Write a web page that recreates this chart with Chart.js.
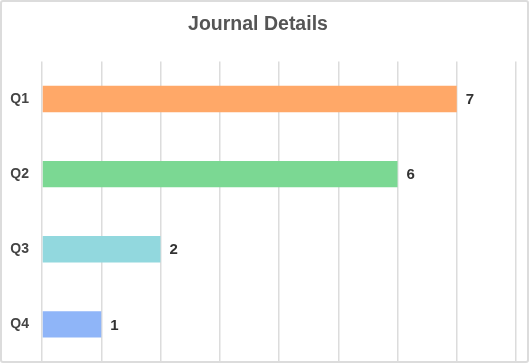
<!DOCTYPE html>
<html>
<head>
<meta charset="utf-8">
<script src="https://cdn.jsdelivr.net/npm/chart.js@4/dist/chart.umd.min.js"></script>
<style>
  html, body { margin: 0; padding: 0; background: #fff; }
  #wrap { position: relative; width: 529px; height: 363px; }
  #frame { position: absolute; left: 0; top: 0; width: 529px; height: 363px; box-sizing: border-box;
           border: 2px solid #dcdcdc; border-radius: 3px; pointer-events: none; }
</style>
</head>
<body>
<div id="wrap">
  <canvas id="chart" width="529" height="363"></canvas>
  <div id="frame"></div>
</div>
<script>
const categories = ['Q1', 'Q2', 'Q3', 'Q4'];
const values = [7, 6, 2, 1];
const barColors = ['#FFA868', '#7BD893', '#92D8DE', '#8FB5F8'];

// draws the value at the end of each bar
const valueLabels = {
  id: 'valueLabels',
  afterDatasetsDraw(chart) {
    const ctx = chart.ctx;
    const meta = chart.getDatasetMeta(0);
    ctx.save();
    ctx.font = 'bold 15px Arial, "Liberation Sans", sans-serif';
    ctx.fillStyle = '#333';
    ctx.textAlign = 'left';
    ctx.textBaseline = 'middle';
    meta.data.forEach((bar, i) => {
      ctx.fillText(values[i], bar.x + 9, bar.y + 1);
    });
    ctx.restore();
  }
};

new Chart(document.getElementById('chart').getContext('2d'), {
  type: 'bar',
  data: {
    labels: categories,
    datasets: [{
      data: values,
      backgroundColor: barColors,
      borderWidth: 0,
      barPercentage: 0.35,
      categoryPercentage: 1
    }]
  },
  options: {
    indexAxis: 'y',
    responsive: false,
    animation: false,
    layout: { padding: { left: 0, right: 13, top: 0, bottom: 1 } },
    plugins: {
      legend: { display: false },
      tooltip: { enabled: false },
      title: {
        display: true,
        text: 'Journal Details',
        color: '#555',
        font: { family: 'Arial, "Liberation Sans", sans-serif', size: 19.5, weight: 'bold' },
        padding: { top: 13, bottom: 25 }
      }
    },
    scales: {
      x: {
        min: 0,
        max: 8,
        ticks: { display: false, stepSize: 1 },
        grid: { color: '#dcdcdc', lineWidth: 1.5, drawTicks: false },
        border: { display: false },
        afterFit(scale) { scale.height = 0; }
      },
      y: {
        grid: { display: false, drawTicks: false },
        border: { display: false },
        ticks: {
          color: '#444',
          padding: 13,
          font: { family: 'Arial, "Liberation Sans", sans-serif', size: 14, weight: 'bold' }
        },
        afterFit(scale) {
          scale.width = 42;
          scale.paddingTop = 0;
          scale.paddingBottom = 0;
        }
      }
    }
  },
  plugins: [valueLabels]
});
</script>
</body>
</html>
